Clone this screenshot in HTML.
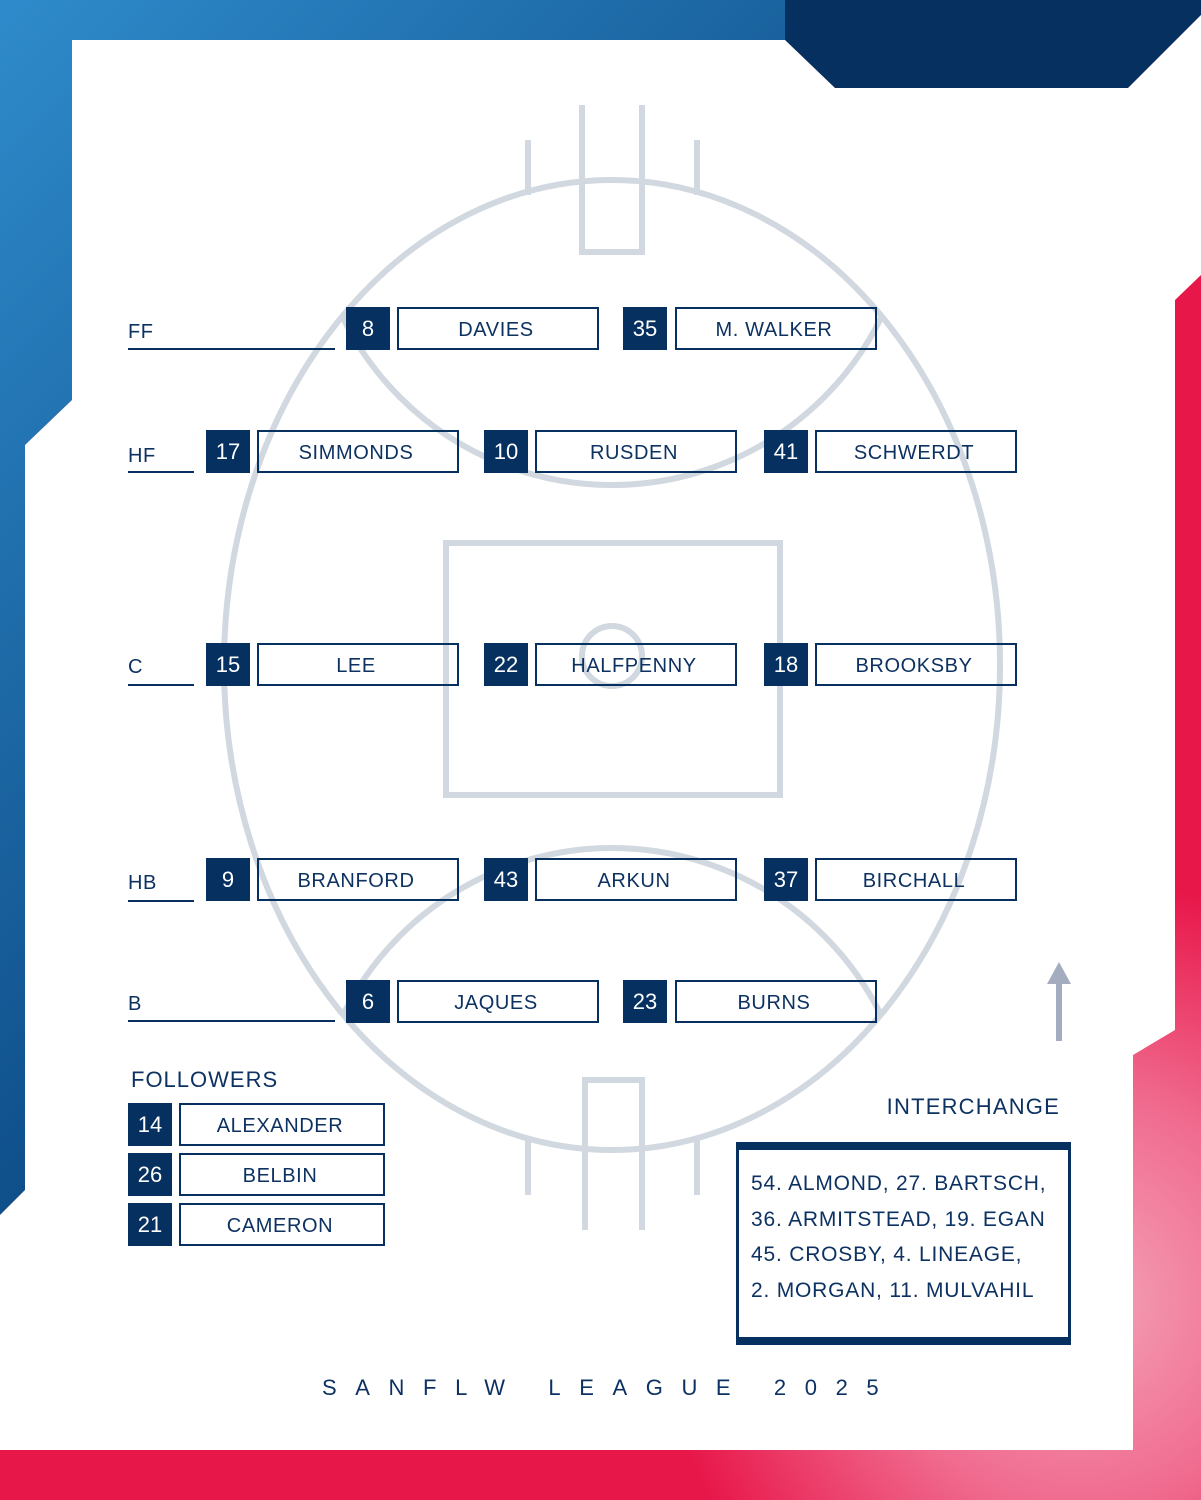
<!DOCTYPE html>
<html><head><meta charset="utf-8"><style>
*{margin:0;padding:0;box-sizing:border-box}
body{width:1201px;height:1500px;position:relative;overflow:hidden;background:#fff;font-family:"Liberation Sans",sans-serif;color:#0d3262}
svg{position:absolute;left:0;top:0}
.n{position:absolute;width:44px;height:43px;background:#05305f;color:#fff;font-size:22px;text-align:center;line-height:44px}
.b{position:absolute;height:43px;border:2px solid #05305f;background:transparent;font-size:20px;text-align:center;line-height:42px;color:#0d3262;letter-spacing:0.6px;padding-right:4px}
.l{position:absolute;font-size:20px;letter-spacing:0.5px}
.u{position:absolute;height:2px;background:#05305f}
</style></head><body>
<svg width="1201" height="1500">
<defs>
<linearGradient id="bl" x1="0" y1="0" x2="1" y2="1"><stop offset="0" stop-color="#2f8bcb"/><stop offset="0.5" stop-color="#0f4f8a"/><stop offset="1" stop-color="#05305f"/></linearGradient>
<radialGradient id="pk" cx="1080" cy="1300" r="420" gradientUnits="userSpaceOnUse"><stop offset="0" stop-color="#f4a3b8"/><stop offset="0.5" stop-color="#f06a8e"/><stop offset="1" stop-color="#e8174a"/></radialGradient>
<clipPath id="ov"><ellipse cx="612" cy="665" rx="388" ry="485"/></clipPath>
</defs>
<rect x="0" y="0" width="1201" height="1500" fill="url(#pk)"/>
<polygon points="0,0 1201,0 1201,15 1128,88 835,88 785,40 72,40 72,400 25,445 25,1190 0,1215" fill="url(#bl)"/>
<polygon points="785,0 1201,0 1201,15 1128,88 835,88 785,40" fill="#05305f"/>
<polygon points="72,40 785,40 835,88 1128,88 1201,15 1201,275 1175,300 1175,1030 1133,1055 1133,1450 0,1450 0,1215 25,1190 25,445 72,400" fill="#fff"/>
<g fill="none" stroke="#d1d8e0" stroke-width="6">
<ellipse cx="612" cy="665" rx="388" ry="485"/>
<rect x="446" y="543" width="334" height="252"/>
<circle cx="612" cy="656" r="30"/>
<g clip-path="url(#ov)"><circle cx="612" cy="185" r="300"/><circle cx="612" cy="1148" r="300"/></g>
<path d="M582 105V252H642V105M528 140V195M697 140V195"/>
<path d="M585 1230V1080H642V1230M528 1140V1195M697 1140V1195"/>
</g>
<g stroke="#a3adbf" fill="#a3adbf"><line x1="1059" y1="1041" x2="1059" y2="980" stroke-width="6"/><polygon points="1047,984 1059,962 1071,984" stroke="none"/></g>
<rect x="737.5" y="1146" width="332" height="196" fill="none" stroke="#05305f" stroke-width="3"/>
<rect x="736" y="1142" width="335" height="8" fill="#05305f"/>
<rect x="736" y="1337" width="335" height="8" fill="#05305f"/>
</svg>

<div class="l" style="left:128px;top:321px">FF</div><div class="u" style="left:128px;top:348px;width:207px"></div>
<div class="l" style="left:128px;top:445px">HF</div><div class="u" style="left:128px;top:471px;width:66px"></div>
<div class="l" style="left:128px;top:656px">C</div><div class="u" style="left:128px;top:684px;width:66px"></div>
<div class="l" style="left:128px;top:872px">HB</div><div class="u" style="left:128px;top:900px;width:66px"></div>
<div class="l" style="left:128px;top:993px">B</div><div class="u" style="left:128px;top:1020px;width:207px"></div>

<div class="n" style="left:346px;top:307px">8</div><div class="b" style="left:397px;top:307px;width:202px">DAVIES</div>
<div class="n" style="left:623px;top:307px">35</div><div class="b" style="left:675px;top:307px;width:202px">M. WALKER</div>

<div class="n" style="left:206px;top:430px">17</div><div class="b" style="left:257px;top:430px;width:202px">SIMMONDS</div>
<div class="n" style="left:484px;top:430px">10</div><div class="b" style="left:535px;top:430px;width:202px">RUSDEN</div>
<div class="n" style="left:764px;top:430px">41</div><div class="b" style="left:815px;top:430px;width:202px">SCHWERDT</div>

<div class="n" style="left:206px;top:643px">15</div><div class="b" style="left:257px;top:643px;width:202px">LEE</div>
<div class="n" style="left:484px;top:643px">22</div><div class="b" style="left:535px;top:643px;width:202px">HALFPENNY</div>
<div class="n" style="left:764px;top:643px">18</div><div class="b" style="left:815px;top:643px;width:202px">BROOKSBY</div>

<div class="n" style="left:206px;top:858px">9</div><div class="b" style="left:257px;top:858px;width:202px">BRANFORD</div>
<div class="n" style="left:484px;top:858px">43</div><div class="b" style="left:535px;top:858px;width:202px">ARKUN</div>
<div class="n" style="left:764px;top:858px">37</div><div class="b" style="left:815px;top:858px;width:202px">BIRCHALL</div>

<div class="n" style="left:346px;top:980px">6</div><div class="b" style="left:397px;top:980px;width:202px">JAQUES</div>
<div class="n" style="left:623px;top:980px">23</div><div class="b" style="left:675px;top:980px;width:202px">BURNS</div>

<div class="l" style="left:131px;top:1067px;font-size:22px;letter-spacing:1px">FOLLOWERS</div>
<div class="n" style="left:128px;top:1103px">14</div><div class="b" style="left:179px;top:1103px;width:206px">ALEXANDER</div>
<div class="n" style="left:128px;top:1153px">26</div><div class="b" style="left:179px;top:1153px;width:206px">BELBIN</div>
<div class="n" style="left:128px;top:1203px">21</div><div class="b" style="left:179px;top:1203px;width:206px">CAMERON</div>

<div class="l" style="left:840px;top:1094px;width:220px;text-align:right;font-size:22px;letter-spacing:1.2px">INTERCHANGE</div>
<div class="l" style="left:751px;top:1166px;font-size:21px;line-height:35.5px;white-space:nowrap;letter-spacing:0.8px">54. ALMOND, 27. BARTSCH,<br>36. ARMITSTEAD, 19. EGAN<br>45. CROSBY, 4. LINEAGE,<br>2. MORGAN, 11. MULVAHIL</div>

<div class="l" style="left:322px;top:1375px;font-size:22px;letter-spacing:18.6px;white-space:nowrap">SANFLW LEAGUE 2025</div>
</body></html>
